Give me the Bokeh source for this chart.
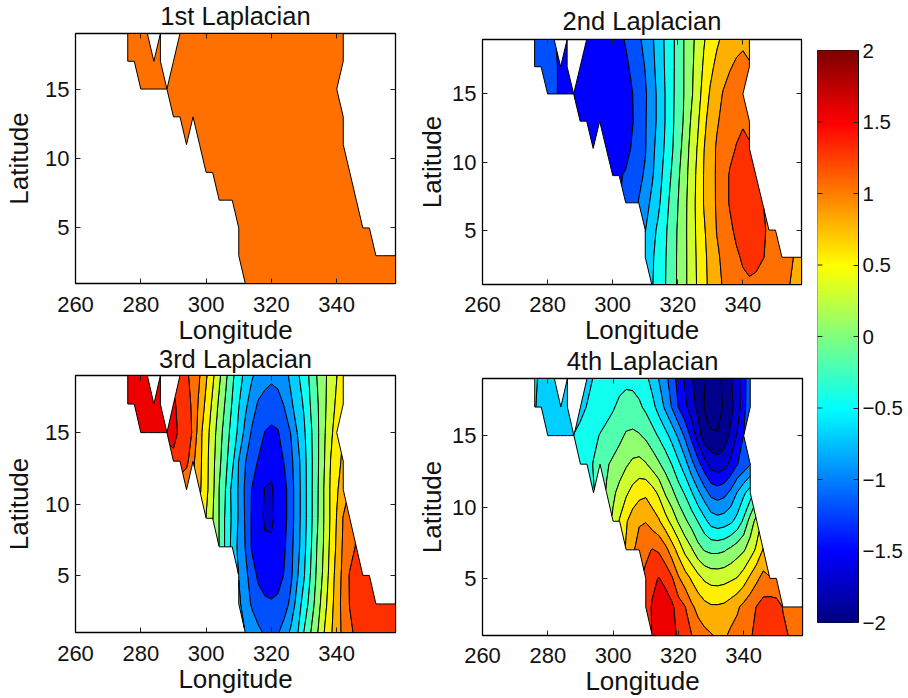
import numpy as np
from bokeh.embed import file_html
from bokeh.resources import INLINE
from bokeh.plotting import figure
from bokeh.plotting.contour import contour_data
from bokeh.layouts import row, column
from bokeh.models import LinearAxis, FixedTicker, Range1d, ColumnDataSource, CustomLabelingPolicy

LATS = [19, 17, 15, 13, 11, 9, 7, 5, 3, 1]
LONS = list(range(276, 360, 2))
OCEAN = {
    19: [(276, 282), (286, 286), (292, 342)],
    17: [(276, 286), (290, 342)],
    15: [(280, 340)],
    13: [(290, 342)],
    11: [(294, 294), (298, 342)],
    9: [(300, 344)],
    7: [(304, 346)],
    5: [(310, 350)],
    3: [(310, 358)],
    1: [(312, 358)],
}

FIRST_VALUE = 1.1

SECOND = {
    19: [-1.13, -1.15, -1.18, -1.24, -1.31, -1.42, -1.44, -1.44, -1.42, -1.38, -1.31, -1.23, -1.13, -1.04, -.93, -.79, -.65, -.48, -.33, -.16, .01, .17, .32, .48, .59, .71, .8, .87, .92, .95, .93],
    17: [-1.15, -1.17, -1.2, -1.23, -1.27, -1.33, -1.43, -1.45, -1.45, -1.45, -1.44, -1.42, -1.37, -1.3, -1.2, -1.1, -.99, -.82, -.67, -.49, -.33, -.16, .01, .18, .36, .53, .69, .81, .9, .98, 1.04, 1.07, 1.02],
    15: [-1.2, -1.23, -1.27, -1.31, -1.36, -1.42, -1.45, -1.47, -1.48, -1.47, -1.45, -1.41, -1.37, -1.26, -1.14, -1.03, -.88, -.69, -.51, -.33, -.15, .01, .2, .38, .6, .78, .89, 1.02, 1.1, 1.15, 1.17],
    13: [-1.41, -1.44, -1.46, -1.47, -1.47, -1.45, -1.41, -1.38, -1.27, -1.15, -1.02, -.88, -.69, -.51, -.32, -.14, .03, .26, .44, .69, .84, .97, 1.07, 1.14, 1.2, 1.23, 1.2],
    11: [-1.42, -1.46, -1.44, -1.4, -1.35, -1.22, -1.12, -1.02, -.83, -.65, -.48, -.3, -.11, .09, .32, .51, .74, .88, 1.03, 1.12, 1.2, 1.26, 1.3, 1.27],
    9: [-1.36, -1.28, -1.22, -1.14, -1.06, -.97, -.79, -.62, -.42, -.24, -.05, .14, .35, .55, .76, .9, 1.03, 1.15, 1.27, 1.31, 1.34, 1.33, 1.29],
    7: [-1.2, -1.13, -.99, -.85, -.7, -.56, -.35, -.19, -.01, .17, .37, .56, .76, .89, 1.03, 1.15, 1.27, 1.32, 1.35, 1.35, 1.33, 1.26],
    5: [-.76, -.6, -.45, -.3, -.15, .02, .18, .37, .55, .72, .86, 1.01, 1.11, 1.2, 1.3, 1.35, 1.36, 1.34, 1.3, 1.2, 1.05],
    3: [-.63, -.54, -.41, -.28, -.13, .03, .18, .36, .53, .69, .83, .96, 1.05, 1.13, 1.21, 1.28, 1.32, 1.31, 1.26, 1.22, 1.17, 1.12, 1.06, .98, .95],
    1: [-.52, -.42, -.27, -.12, .03, .18, .36, .52, .67, .82, .93, 1.02, 1.08, 1.15, 1.2, 1.22, 1.2, 1.17, 1.14, 1.1, 1.06, 1.01, .96, .92],
}

THIRD = {
    19: [1.6, 1.62, 1.62, 1.6, 1.55, 1.38, 1.29, 1.16, 1.01, .78, .55, .3, .05, -.2, -.4, -.57, -.72, -.83, -.91, -.95, -.91, -.84, -.69, -.54, -.38, -.2, 0.01, .18, .34, .49, .63],
    17: [1.62, 1.63, 1.63, 1.62, 1.6, 1.58, 1.53, 1.44, 1.34, 1.2, .93, .69, .45, .2, -.04, -.27, -.49, -.69, -.89, -1.03, -1.09, -1.12, -1.1, -.98, -.79, -.63, -.47, -.24, -.04, .18, .36, .55, .7],
    15: [1.6, 1.6, 1.6, 1.58, 1.54, 1.56, 1.46, 1.36, 1.22, .83, .6, .37, .11, -.13, -.35, -.56, -.83, -1.03, -1.12, -1.26, -1.3, -1.27, -1.12, -.99, -.74, -.54, -.3, -.06, .19, .43, .62],
    13: [1.45, 1.4, 1.32, 1.05, .82, .58, .33, .06, -.19, -.44, -.76, -.99, -1.14, -1.27, -1.4, -1.45, -1.39, -1.23, -1.06, -.84, -.59, -.32, -.06, .21, .49, .66, .8],
    11: [1.02, .79, .57, .31, -.01, -.26, -.58, -.78, -1.05, -1.26, -1.42, -1.51, -1.52, -1.44, -1.33, -1.1, -.86, -.6, -.32, -.05, .24, .51, .71, .9],
    9: [.49, .26, -.01, -.3, -.55, -.78, -1.03, -1.28, -1.42, -1.53, -1.53, -1.44, -1.33, -1.1, -.86, -.6, -.32, -.04, .24, .51, .76, 1.01, 1.12],
    7: [-.01, -.3, -.58, -.82, -1.01, -1.28, -1.4, -1.46, -1.47, -1.42, -1.28, -1.07, -.84, -.57, -.29, 0.01, .26, .54, .79, 1.04, 1.15, 1.27],
    5: [-.76, -.93, -1.13, -1.3, -1.38, -1.4, -1.36, -1.23, -1.05, -.77, -.52, -.24, .05, .3, .58, .85, 1.07, 1.27, 1.36, 1.42, 1.44],
    3: [-.7, -.88, -1.03, -1.14, -1.2, -1.22, -1.19, -1.12, -.93, -.63, -.4, -.15, .12, .38, .63, .88, 1.09, 1.26, 1.35, 1.42, 1.45, 1.46, 1.47, 1.46, 1.45],
    1: [-.76, -.86, -.95, -1.03, -1.06, -1.02, -.88, -.7, -.52, -.24, -.01, .22, .48, .7, .88, 1.06, 1.2, 1.3, 1.36, 1.4, 1.42, 1.43, 1.43, 1.42],
}

FOURTH = {
    19: [-.48, -.53, -.58, -.6, -.6, -.58, -.49, -.45, -.41, -.37, -.33, -.3, -.31, -.36, -.44, -.6, -.76, -.93, -1.13, -1.34, -1.54, -1.73, -1.87, -1.98, -2.1, -2.08, -1.93, -1.78, -1.6, -1.35, -1.05],
    17: [-.49, -.55, -.58, -.6, -.62, -.62, -.58, -.49, -.42, -.37, -.31, -.27, -.2, -.17, -.17, -.21, -.3, -.42, -.6, -.8, -1.02, -1.26, -1.44, -1.63, -1.82, -2.02, -2.17, -2.15, -1.95, -1.82, -1.65, -1.35, -1.01],
    15: [-.6, -.62, -.63, -.58, -.49, -.42, -.35, -.3, -.24, -.2, -.14, -.06, .03, .05, .02, -.05, -.16, -.28, -.42, -.59, -.8, -1.05, -1.32, -1.63, -1.9, -1.95, -1.97, -1.88, -1.7, -1.48, -1.24],
    13: [-.38, -.33, -.24, -.18, -.03, .05, .13, .22, .3, .33, .27, .15, .03, -.1, -.26, -.45, -.65, -.92, -1.16, -1.4, -1.6, -1.65, -1.6, -1.45, -1.26, -1.16, -1.01],
    11: [-.26, .02, .2, .33, .46, .58, .67, .7, .6, .45, .22, .06, -.13, -.28, -.48, -.7, -.9, -1.08, -1.13, -1.08, -.95, -.74, -.55, -.38],
    9: [.3, .52, .72, .88, .97, .99, .88, .78, .6, .42, .22, .05, -.1, -.26, -.43, -.6, -.65, -.62, -.55, -.42, -.2, .1, .35],
    7: [.78, .95, 1.12, 1.2, 1.26, 1.22, 1.08, .87, .66, .43, .28, .09, -.02, -.06, -.06, -.03, .05, .14, .22, .37, .55, .77],
    5: [1.3, 1.45, 1.51, 1.42, 1.28, 1.03, .87, .72, .58, .46, .41, .4, .42, .46, .51, .63, .8, .95, 1.08, 1.02, 1.05],
    3: [1.4, 1.52, 1.65, 1.65, 1.55, 1.37, 1.26, 1.05, .92, .83, .78, .78, .8, .87, .96, 1.07, 1.17, 1.26, 1.34, 1.38, 1.34, 1.24, 1.18, 1.15, 1.13],
    1: [1.51, 1.58, 1.6, 1.56, 1.47, 1.35, 1.26, 1.14, 1.07, 1.02, .95, .96, 1.05, 1.1, 1.16, 1.23, 1.3, 1.33, 1.35, 1.33, 1.29, 1.24, 1.18, 1.14],
}

LEVELS = [-2.5, -2, -1.75, -1.5, -1.25, -1, -.75, -.5, -.25, 0, .25, .5, .75, 1, 1.25, 1.5, 1.75, 2]
BAND_COLORS = ["#00008f", "#00008f", "#0000cf", "#0000ff", "#0050ff", "#0090ff", "#00cfff", "#10ffef", "#50ffaf",
               "#90ff70", "#cfff30", "#ffef00", "#ffaf00", "#ff7000", "#ff3000", "#ef0000", "#af0000"]
TITLES = ["1st Laplacian", "2nd Laplacian", "3rd Laplacian", "4th Laplacian"]
X_TICKS = [260, 280, 300, 320, 340]
Y_TICKS = [5, 10, 15]
CB_TICKS = [-2, -1.5, -1, -.5, 0, .5, 1, 1.5, 2]
CB_LABELS = ["\u22122", "\u22121.5", "\u22121", "\u22120.5", "0", "0.5", "1", "1.5", "2"]
FONT = "Liberation Sans"
TEXT = "#111111"


def grid(table):
    z = np.full((len(LATS), len(LONS)), np.nan)
    for i, lat in enumerate(LATS):
        slots = [lon for a, b in OCEAN[lat] for lon in range(a, b + 1, 2)]
        vals = table[lat] if table is not None else [FIRST_VALUE] * len(slots)
        assert len(vals) == len(slots), (lat, len(vals), len(slots))
        for lon, v in zip(slots, vals):
            z[i, LONS.index(lon)] = v
    return z[::-1]


def style_axis(ax, labels=True, size="22px"):
    ax.major_tick_in = 5
    ax.major_tick_out = 0
    ax.minor_tick_line_color = None
    ax.axis_line_color = "black"
    ax.major_tick_line_color = "#222222"
    if labels:
        ax.major_label_text_font = FONT
        ax.major_label_text_font_size = size
        ax.major_label_text_color = TEXT
    else:
        ax.major_label_text_font_size = "1px"
        ax.major_label_policy = CustomLabelingPolicy(code="for (const i of indices) { indices.unset(i) }; return indices")
        ax.major_label_standoff = 0


def panel(title, table, left, top, fw, fh, bottom, right, title_standoff, ylabel_standoff, top_margin, tick_standoff):
    p = figure(frame_width=fw, frame_height=fh, output_backend="svg", toolbar_location=None,
               x_range=Range1d(260, 358), y_range=Range1d(1, 19),
               min_border_left=left, min_border_top=top, min_border_bottom=bottom, min_border_right=right,
               x_axis_label="Longitude", y_axis_label="Latitude", title=title, margin=(top_margin, 0, 0, 0))
    p.grid.visible = False
    p.outline_line_color = "black"
    p.outline_line_width = 1.3
    p.title.text_font = FONT
    p.title.text_font_size = "25.5px"
    p.title.text_font_style = "normal"
    p.title.text_color = TEXT
    p.title.align = "center"
    p.title.standoff = title_standoff
    p.title.offset = 0
    data = contour_data(LONS, LATS[::-1], grid(table), LEVELS, want_fill=True, want_line=False).fill_data
    xs, ys, colors = [], [], []
    for x_part, y_part, low in zip(data.xs, data.ys, data.lower_levels):
        if len(x_part) and len(x_part[0]) and len(x_part[0][0]):
            xs.append(x_part)
            ys.append(y_part)
            colors.append(BAND_COLORS[LEVELS.index(low)])
    p.multi_polygons(xs=xs, ys=ys, fill_color=colors, line_color="black", line_width=1, line_join="miter")
    ax = p.xaxis[0]
    ax.ticker = FixedTicker(ticks=X_TICKS)
    ay = p.yaxis[0]
    ay.ticker = FixedTicker(ticks=Y_TICKS)
    style_axis(ax)
    style_axis(ay)
    for a in (ax, ay):
        a.axis_label_text_font = FONT
        a.axis_label_text_font_size = "26px"
        a.axis_label_text_font_style = "normal"
        a.axis_label_text_color = TEXT
    ax.major_label_standoff = tick_standoff
    ax.axis_label_standoff = 0
    ay.major_label_standoff = 6
    ay.axis_label_standoff = ylabel_standoff
    ra = LinearAxis(ticker=FixedTicker(ticks=Y_TICKS))
    style_axis(ra, False)
    p.add_layout(ra, "right")
    ta = LinearAxis(ticker=FixedTicker(ticks=X_TICKS))
    style_axis(ta, False)
    p.add_layout(ta, "above")
    return p


f1 = panel(TITLES[0], None, 75, 33, 320, 250, 72, 15, -1.5, 8, 0, 13)
f2 = panel(TITLES[1], SECOND, 71, 39, 319, 245, 72, 12, 0.5, 2, 0, 12)
f3 = panel(TITLES[2], THIRD, 75, 32, 320, 257, 62, 15, -2.5, 8, -12, 13)
f4 = panel(TITLES[3], FOURTH, 72, 34, 320, 257, 60, 10, -0.5, 2, -12, 12)

edges = np.linspace(-2, 2, 257)
u = (edges[:-1] + edges[1:]) / 8 + 0.5
r = np.clip(np.minimum(4 * u - 1.5, 4.5 - 4 * u), 0, 1)
g = np.clip(np.minimum(4 * u - 0.5, 3.5 - 4 * u), 0, 1)
b = np.clip(np.minimum(4 * u + 0.5, 2.5 - 4 * u), 0, 1)
cols = ["#%02x%02x%02x" % (int(a * 255), int(c * 255), int(d * 255)) for a, c, d in zip(r, g, b)]
cb = figure(frame_width=41, frame_height=572, output_backend="svg", toolbar_location=None,
            x_range=Range1d(0, 1), y_range=Range1d(-2, 2),
            min_border_left=5, min_border_top=50, min_border_bottom=60, min_border_right=46)
cb.grid.visible = False
cb.outline_line_color = "black"
cb.xaxis.visible = False
cb.yaxis.visible = False
src = ColumnDataSource(dict(bottom=edges[:-1], top=edges[1:], color=cols))
cb.quad(left=0, right=1, bottom="bottom", top="top", fill_color="color", line_color="color", line_width=2, source=src)
cb.segment(x0=[0] * len(CB_TICKS), x1=[0.12] * len(CB_TICKS), y0=CB_TICKS, y1=CB_TICKS, line_color="#222222", line_width=1)
ar = LinearAxis(ticker=FixedTicker(ticks=CB_TICKS), major_label_overrides=dict(zip(CB_TICKS, CB_LABELS)))
style_axis(ar, True, "20.5px")
ar.major_label_standoff = 4
cb.add_layout(ar, "right")

page = row(column(f1, f3, spacing=0), column(f2, f4, spacing=0), cb, spacing=0)
open("out.html", "w").write(file_html(page, INLINE))
